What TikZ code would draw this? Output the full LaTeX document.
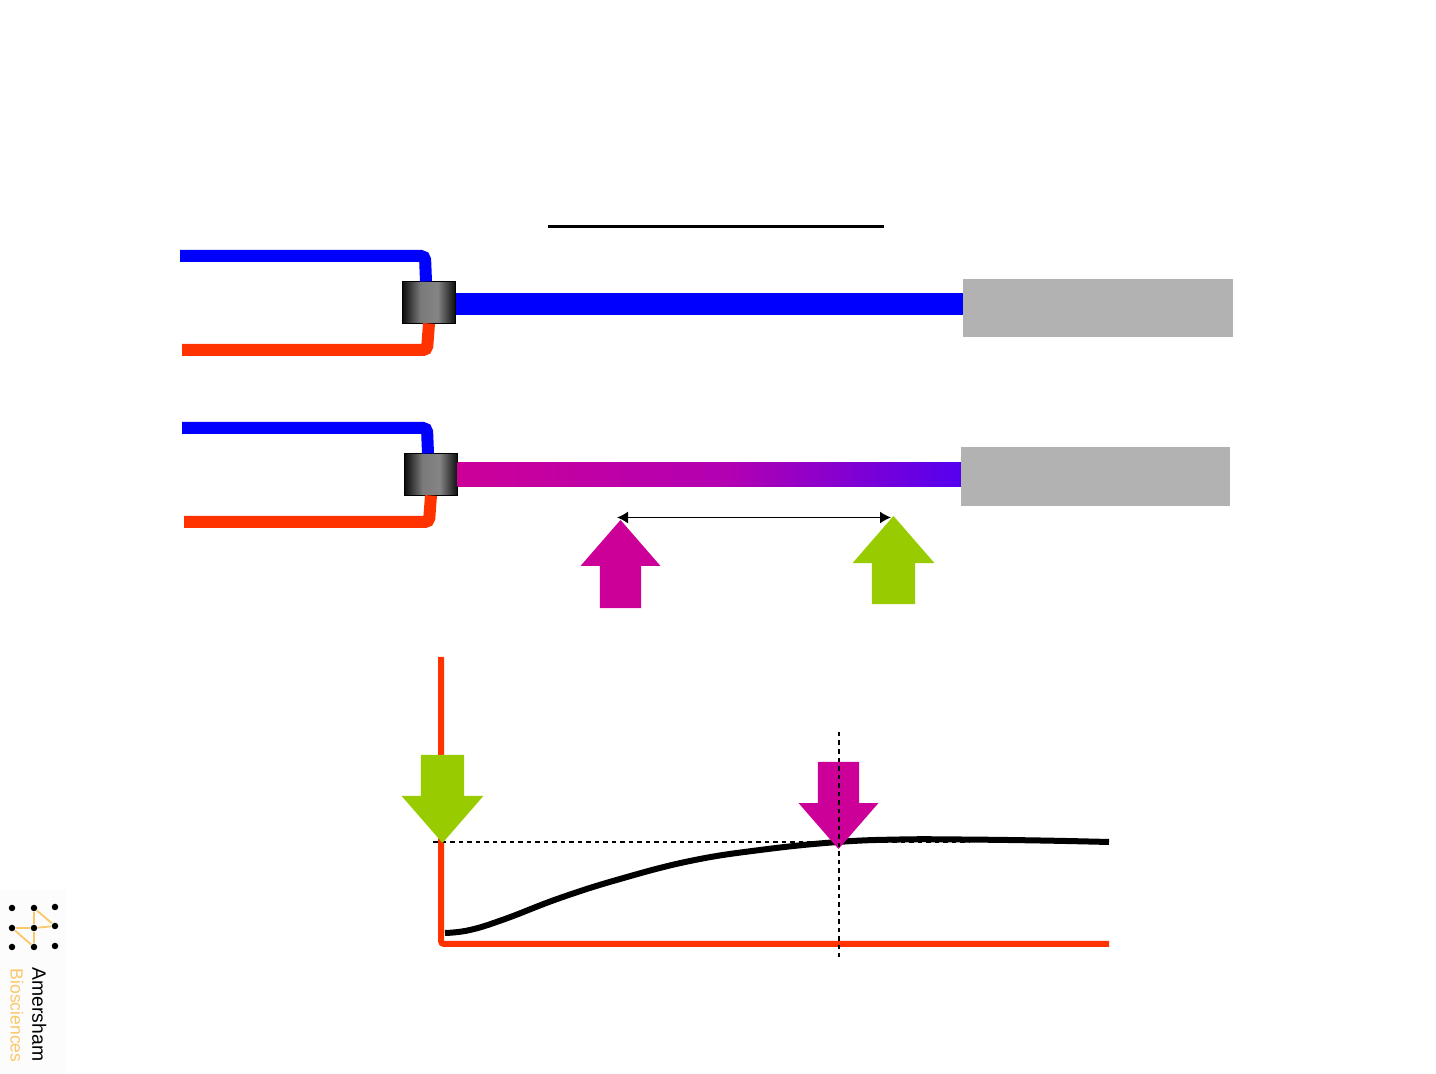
\documentclass[tikz,border=0pt]{standalone}
\usepackage{fontspec}
\setmainfont{Liberation Sans}
\usepackage{xcolor}
\usetikzlibrary{shapes.arrows, arrows.meta, positioning, calc}
\definecolor{tubeblue}{RGB}{0,0,255}
\definecolor{tubered}{RGB}{255,51,0}
\definecolor{pulsemagenta}{RGB}{204,0,153}
\definecolor{pulsegreen}{RGB}{153,204,0}
\definecolor{cellgray}{RGB}{178,178,178}
\definecolor{logoorange}{RGB}{250,200,105}
\definecolor{logoback}{RGB}{252,252,252}
\definecolor{rodmid}{RGB}{178,0,178}
\definecolor{rodend}{RGB}{85,0,240}
\pgfdeclarehorizontalshading{mixshade}{100bp}{color(0bp)=(black!95); color(25bp)=(black!95); color(42bp)=(black!52); color(58bp)=(black!48); color(75bp)=(black!95); color(100bp)=(black!95)}
\pgfdeclarehorizontalshading{rodshade}{100bp}{color(0bp)=(pulsemagenta); color(25bp)=(pulsemagenta); color(52bp)=(rodmid); color(75bp)=(rodend); color(100bp)=(rodend)}

\begin{document}
\begin{tikzpicture}[
    x=0.01cm, y=-0.01cm,
    node distance=0cm,
    tube/.style={line width=0.12cm, rounded corners=0.04cm},
    mixer/.style={rectangle, draw=black, line width=0.45pt, outer sep=0pt, inner sep=0pt, minimum width=0.53cm, minimum height=0.42cm, shading=mixshade},
    rod/.style={rectangle, outer sep=0pt, inner sep=0pt},
    cell/.style={rectangle, fill=cellgray, outer sep=0pt, inner sep=0pt, minimum height=0.58cm},
    pulse/.style={single arrow, inner xsep=0pt, inner ysep=0.2cm, outer sep=0pt, minimum height=0.88cm, single arrow head extend=0.192cm, single arrow tip angle=82, single arrow head indent=0cm},
    guide/.style={line width=0.02cm, dash pattern=on 0.045cm off 0.04cm},
    dot/.style={circle, fill=black, inner sep=0pt, minimum size=0.065cm},
    logotext/.style={rotate=-90, anchor=north west, inner sep=0pt}
]
\useasboundingbox (0,0) rectangle (1436,1074);

% Title rule
\coordinate (ruleL) at (548,226.5);
\coordinate (ruleR) at (884,226.5);
\draw[line width=0.03cm] (ruleL) -- (ruleR);

% Upper column
\node[mixer] (mixA) at (429,302.5) {};
\node[rod, fill=tubeblue, minimum width=5.075cm, minimum height=0.22cm, right=of mixA, yshift=-0.015cm] (rodA) {};
\node[cell, minimum width=2.70cm, right=of rodA, yshift=-0.04cm] (cellA) {};
\coordinate (blueA) at (180,256);
\coordinate (kneeblueA) at (425,256);
\coordinate (redA) at (182,350);
\coordinate (kneeredA) at (427,350);
\draw[tube, tubeblue] (blueA) -- (kneeblueA) -- ([xshift=-0.03cm]mixA.north);
\draw[tube, tubered] (redA) -- (kneeredA) -- (mixA.south);

% Lower column
\node[mixer] (mixB) at (431,474.5) {};
\node[rod, minimum width=5.035cm, minimum height=0.24cm, shading=rodshade, right=of mixB] (rodB) {};
\node[cell, minimum width=2.69cm, right=of rodB, yshift=-0.02cm] (cellB) {};
\coordinate (blueB) at (182,428);
\coordinate (kneeblueB) at (427,428);
\coordinate (redB) at (184,522);
\coordinate (kneeredB) at (429,522);
\draw[tube, tubeblue] (blueB) -- (kneeblueB) -- ([xshift=-0.03cm]mixB.north);
\draw[tube, tubered] (redB) -- (kneeredB) -- (mixB.south);

% Pulses under the rod
\node[pulse, fill=pulsemagenta, rotate=90, anchor=tip] (upM) at (620.5,520) {};
\node[pulse, fill=pulsegreen, rotate=90, anchor=tip, inner ysep=0.21cm] (upG) at (893.5,516) {};
\coordinate (spanL) at (617,517.5);
\coordinate (spanR) at (891,517.5);
\draw[{Latex[length=0.11cm,width=0.12cm]}-{Latex[length=0.11cm,width=0.12cm]}, line width=0.013cm] (spanL) -- (spanR);

% Plot
\coordinate (axisT) at (441,657);
\coordinate (axisO) at (441,944);
\coordinate (axisR) at (1109,944);
\draw[line width=0.06cm, tubered, rounded corners=0.03cm] (axisT) -- (axisO) -- (axisR);
\coordinate (levelL) at (433,842);
\coordinate (levelR) at (970,842);
\coordinate (timeT) at (838.5,732);
\coordinate (timeB) at (838.5,957);
\draw[guide] (levelL) -- (levelR);
\draw[line width=0.06cm] plot[smooth, tension=0.7] coordinates {(445,933) (470,930) (505,919) (560,898) (620,879) (690,861) (760,850) (838,842) (900,839.5) (960,839.5) (1040,840.5) (1109,842)};
\node[pulse, fill=pulsegreen, rotate=-90, anchor=tip, inner ysep=0.21cm] (downG) at (442.5,843) {};
\node[pulse, fill=pulsemagenta, rotate=-90, anchor=tip, minimum height=0.87cm] (downM) at (838.5,849) {};
\draw[guide] (timeT) -- (timeB);

% Logo
\fill[logoback] (0,890) rectangle (66,1074);
\node[dot] (d11) at (12,908) {};
\node[dot] (d12) at (34,908) {};
\node[dot] (d13) at (55,907) {};
\node[dot] (d21) at (12,928) {};
\node[dot] (d22) at (34,928) {};
\node[dot] (d23) at (55,926) {};
\node[dot] (d31) at (12,947) {};
\node[dot] (d32) at (34,947) {};
\node[dot] (d33) at (55,946) {};
\draw[logoorange, line width=0.018cm] (d12) -- (d22);
\draw[logoorange, line width=0.018cm] (d22) -- (d32);
\draw[logoorange, line width=0.018cm] (d32) -- (d21);
\draw[logoorange, line width=0.018cm] (d21) -- (d22);
\draw[logoorange, line width=0.018cm] (d22) -- (d23);
\draw[logoorange, line width=0.018cm] (d23) -- (d12);
\node[logotext, font=\fontsize{5.5pt}{6pt}\selectfont] (amersham) at (47,967) {Amersham};
\node[logotext, font=\fontsize{5pt}{6pt}\selectfont, text=logoorange] (biosciences) at (24,968) {Biosciences};

\end{tikzpicture}
\end{document}
